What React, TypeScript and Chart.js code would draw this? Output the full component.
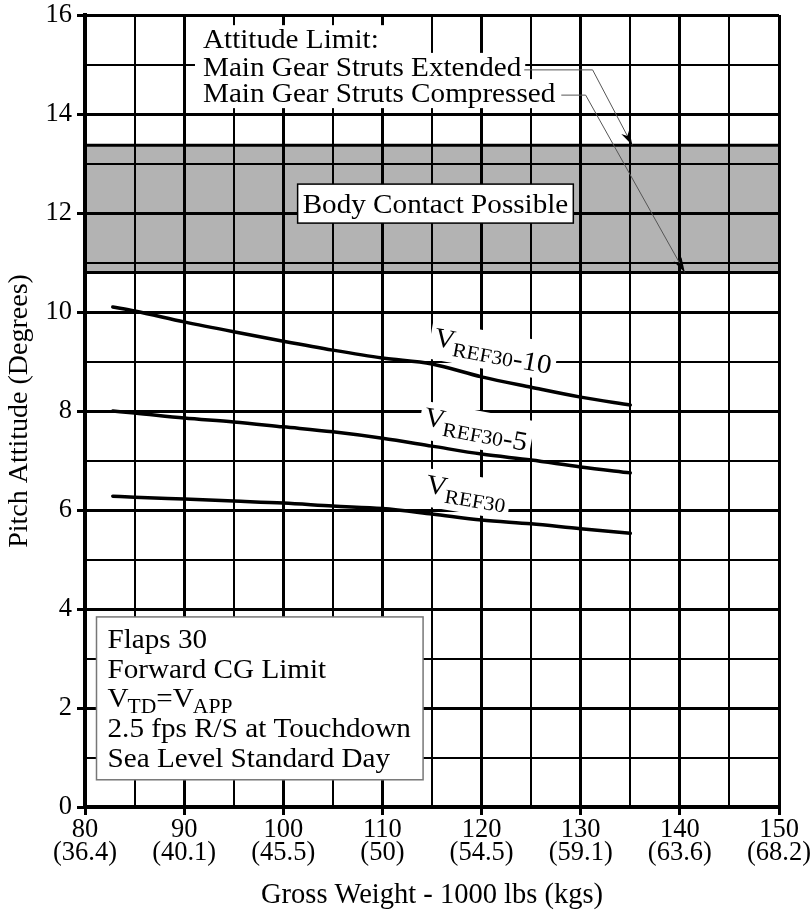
import React, { useEffect, useRef } from 'react';
import { Chart, registerables } from 'chart.js';

Chart.register(...registerables);

const SERIF = '"Liberation Serif", "Times New Roman", serif';
const SX = 1.08; // horizontal stretch of annotation text

// Axis ticks
const weightTicks = [80, 90, 100, 110, 120, 130, 140, 150];
const kgLabels = ['(36.4)', '(40.1)', '(45.5)', '(50)', '(54.5)', '(59.1)', '(63.6)', '(68.2)'];
const pitchTicks = [0, 2, 4, 6, 8, 10, 12, 14, 16];

// Curves (gross weight in 1000 lbs -> pitch attitude in degrees)
const curveWeights = [82.8, 85, 90, 95, 100, 105, 110, 115, 120, 125, 130, 135];
const vref30minus10 = [10.1, 10.02, 9.8, 9.6, 9.41, 9.23, 9.07, 8.95, 8.69, 8.48, 8.28, 8.12];
const vref30minus5 = [8.0, 7.96, 7.86, 7.78, 7.68, 7.58, 7.45, 7.29, 7.13, 7.01, 6.87, 6.75];
const vref30 = [6.28, 6.26, 6.22, 6.18, 6.14, 6.08, 6.03, 5.92, 5.8, 5.72, 5.62, 5.53];

// Attitude limits (body contact band)
const bandWeights = [80, 150];
const strutsExtendedLimit = 13.37;
const strutsCompressedLimit = 10.8;

const conditionLines = ['Flaps 30', 'Forward CG Limit', 'VTD=VAPP', '2.5 fps R/S at Touchdown', 'Sea Level Standard Day'];

const f = (size: number) => `${size}px ${SERIF}`;

function textW(ctx: CanvasRenderingContext2D, s: string) {
  return ctx.measureText(s).width * SX;
}

function fillS(ctx: CanvasRenderingContext2D, s: string, x: number, y: number) {
  ctx.save();
  ctx.translate(x, y);
  ctx.scale(SX, 1);
  ctx.fillText(s, 0, 0);
  ctx.restore();
}

function drawCurveLabel(ctx: CanvasRenderingContext2D, x: number, y: number, angle: number, suffix: string, bg: boolean) {
  ctx.save();
  ctx.translate(x, y);
  ctx.rotate((angle * Math.PI) / 180);
  ctx.font = f(27);
  const wV = textW(ctx, 'V');
  ctx.font = f(20);
  const wSub = textW(ctx, 'REF30');
  ctx.font = f(27);
  const wSuf = suffix ? textW(ctx, suffix) : 0;
  const total = wV - 1 + wSub + wSuf;
  if (bg) {
    ctx.fillStyle = '#ffffff';
    ctx.fillRect(-4, -24, total + 8, 38);
  } else {
    ctx.fillStyle = '#000';
    ctx.textAlign = 'left';
    ctx.textBaseline = 'alphabetic';
    ctx.font = f(27);
    fillS(ctx, 'V', 0, 0);
    ctx.font = f(20);
    fillS(ctx, 'REF30', wV - 1, 7);
    if (suffix) {
      ctx.font = f(27);
      fillS(ctx, suffix, wV - 1 + wSub, 7);
    }
  }
  ctx.restore();
}

function arrow(ctx: CanvasRenderingContext2D, pts: number[][]) {
  ctx.save();
  ctx.strokeStyle = '#555';
  ctx.lineWidth = 1;
  ctx.beginPath();
  ctx.moveTo(pts[0][0], pts[0][1]);
  for (let i = 1; i < pts.length; i++) ctx.lineTo(pts[i][0], pts[i][1]);
  ctx.stroke();
  const [x1, y1] = pts[pts.length - 2];
  const [x2, y2] = pts[pts.length - 1];
  const a = Math.atan2(y2 - y1, x2 - x1);
  const L = 15, W = 4.5;
  ctx.fillStyle = '#000';
  ctx.beginPath();
  ctx.moveTo(x2, y2);
  ctx.lineTo(x2 - L * Math.cos(a) + W * Math.sin(a), y2 - L * Math.sin(a) - W * Math.cos(a));
  ctx.lineTo(x2 - L * 0.7 * Math.cos(a), y2 - L * 0.7 * Math.sin(a));
  ctx.lineTo(x2 - L * Math.cos(a) - W * Math.sin(a), y2 - L * Math.sin(a) + W * Math.cos(a));
  ctx.closePath();
  ctx.fill();
  ctx.restore();
}

const curveLabels = [
  { x: 115.1, y: 9.33, angle: 10.5, suffix: '-10' },
  { x: 114.1, y: 7.72, angle: 10.5, suffix: '-5' },
  { x: 114.3, y: 6.36, angle: 9.5, suffix: '' },
];

const annotationPlugin = {
  id: 'annotations',
  beforeDatasetsDraw(chart: any) {
    const ctx: CanvasRenderingContext2D = chart.ctx;
    const sx = chart.scales.x, sy = chart.scales.y;
    curveLabels.forEach((l) => drawCurveLabel(ctx, sx.getPixelForValue(l.x), sy.getPixelForValue(l.y), l.angle, l.suffix, true));
  },
  afterDatasetsDraw(chart: any) {
    const ctx: CanvasRenderingContext2D = chart.ctx;
    const sx = chart.scales.x, sy = chart.scales.y;
    curveLabels.forEach((l) => drawCurveLabel(ctx, sx.getPixelForValue(l.x), sy.getPixelForValue(l.y), l.angle, l.suffix, false));
  },
  afterDraw(chart: any) {
    const ctx: CanvasRenderingContext2D = chart.ctx;
    const sx = chart.scales.x, sy = chart.scales.y;
    const X = (v: number) => sx.getPixelForValue(v);
    const Y = (v: number) => sy.getPixelForValue(v);
    ctx.save();

    // Attitude limit text block
    const topLines = ['Attitude Limit:', 'Main Gear Struts Extended', 'Main Gear Struts Compressed'];
    const topBase = [15.33, 14.77, 14.24];
    const bgPad = [16, 4, 4];
    const tx = X(91.9);
    ctx.font = f(27);
    ctx.textAlign = 'left';
    ctx.textBaseline = 'alphabetic';
    const widths = topLines.map((t) => textW(ctx, t));
    topLines.forEach((t, i) => {
      const by = Y(topBase[i]);
      ctx.fillStyle = '#fff';
      ctx.fillRect(tx - 8, by - 23, widths[i] + 8 + bgPad[i], 29);
    });
    topLines.forEach((t, i) => {
      ctx.fillStyle = '#000';
      fillS(ctx, t, tx, Y(topBase[i]));
    });
    // leaders
    const y2 = Y(topBase[1]) - 6;
    arrow(ctx, [[tx + widths[1] + 3, y2], [X(131.2), y2], [X(135.2), Y(strutsExtendedLimit)]]);
    const y3 = Y(topBase[2]) - 7;
    arrow(ctx, [[tx + widths[2] + 6, y3], [X(130.5), y3], [X(140.5), Y(strutsCompressedLimit)]]);

    // Body contact box
    ctx.font = f(27);
    const bt = 'Body Contact Possible';
    const bw = textW(ctx, bt);
    const bcx = X(115.35), bcy = Y(12.19);
    ctx.fillStyle = '#fff';
    ctx.fillRect(bcx - bw / 2 - 5, bcy - 19.5, bw + 10, 39);
    ctx.strokeStyle = '#000';
    ctx.lineWidth = 1.5;
    ctx.strokeRect(bcx - bw / 2 - 5, bcy - 19.5, bw + 10, 39);
    ctx.fillStyle = '#000';
    ctx.textAlign = 'left';
    ctx.textBaseline = 'alphabetic';
    fillS(ctx, bt, bcx - bw / 2, bcy + 9);

    // Conditions box
    const bx0 = X(81.16), bx1 = X(114.1), by0 = Y(3.84), by1 = Y(0.55);
    ctx.fillStyle = '#fff';
    ctx.fillRect(bx0, by0, bx1 - bx0, by1 - by0);
    ctx.strokeStyle = '#777';
    ctx.lineWidth = 1.5;
    ctx.strokeRect(bx0, by0, bx1 - bx0, by1 - by0);
    ctx.fillStyle = '#000';
    const lx = X(82.27);
    const lineBase = [3.21, 2.61, 2.02, 1.41, 0.81];
    conditionLines.forEach((t, i) => {
      const by = Y(lineBase[i]);
      if (i === 2) {
        let cx = lx;
        const parts: [string, number, number][] = [['V', 27, 0], ['TD', 20, 6], ['=', 27, 0], ['V', 27, 0], ['APP', 20, 6]];
        parts.forEach(([s, size, dy]) => {
          ctx.font = f(size);
          fillS(ctx, s, cx, by + dy);
          cx += textW(ctx, s) - (s === 'V' ? 1 : 0);
        });
      } else {
        ctx.font = f(27);
        fillS(ctx, t, lx, by);
      }
    });
    ctx.restore();
  },
};

export default function App() {
  const ref = useRef<HTMLCanvasElement>(null);
  useEffect(() => {
    const pts = (ys: number[]) => curveWeights.map((x, i) => ({ x, y: ys[i] }));
    const curveStyle = {
      borderColor: '#000',
      borderWidth: 3.5,
      pointRadius: 0,
      fill: false,
      cubicInterpolationMode: 'monotone' as const,
      borderCapStyle: 'round' as const,
    };
    const chart = new Chart(ref.current as HTMLCanvasElement, {
      type: 'line',
      data: {
        datasets: [
          {
            label: 'Main Gear Struts Extended',
            data: bandWeights.map((x) => ({ x, y: strutsExtendedLimit })),
            borderColor: '#000',
            borderWidth: 3,
            backgroundColor: '#b3b3b3',
            pointRadius: 0,
            fill: '+1',
          },
          {
            label: 'Main Gear Struts Compressed',
            data: bandWeights.map((x) => ({ x, y: strutsCompressedLimit })),
            borderColor: '#000',
            borderWidth: 3,
            pointRadius: 0,
            fill: false,
          },
          { label: 'VREF30-10', data: pts(vref30minus10), ...curveStyle },
          { label: 'VREF30-5', data: pts(vref30minus5), ...curveStyle },
          { label: 'VREF30', data: pts(vref30), ...curveStyle },
        ],
      },
      options: {
        animation: false,
        responsive: false,
        devicePixelRatio: 1,
        layout: { padding: { top: 15, right: 33, left: 0, bottom: 0 } },
        plugins: {
          legend: { display: false },
          tooltip: { enabled: false },
          filler: { drawTime: 'beforeDraw' },
        } as any,
        scales: {
          x: {
            type: 'linear',
            min: 80,
            max: 150,
            afterFit: (s: any) => {
              s.height = 106;
              s.paddingLeft = 0;
              s.paddingRight = 0;
            },
            ticks: {
              stepSize: 5,
              autoSkip: false,
              maxRotation: 0,
              minRotation: 0,
              padding: 4,
              color: '#000',
              font: { family: SERIF, size: 26.5, lineHeight: '23px' } as any,
              callback: (v: any) => {
                const i = weightTicks.indexOf(Math.round(Number(v)));
                return i >= 0 ? [String(weightTicks[i]), kgLabels[i]] : '';
              },
            },
            grid: {
              color: '#000',
              lineWidth: (c: any) => (c.tick && Math.round(c.tick.value) % 10 === 0 ? 3 : 2),
              tickLength: 8,
              tickWidth: 3,
              tickColor: (c: any) => (c.tick && Math.round(c.tick.value) % 10 === 0 ? '#000' : 'rgba(0,0,0,0)'),
            },
            border: { display: true, color: '#000', width: 4 },
            title: {
              display: true,
              text: 'Gross Weight - 1000 lbs (kgs)',
              color: '#000',
              font: { family: SERIF, size: 28.5 },
              padding: { top: 0, bottom: 0 },
            },
          },
          y: {
            type: 'linear',
            min: 0,
            max: 16,
            afterFit: (s: any) => {
              s.width = 85;
              s.paddingTop = 0;
              s.paddingBottom = 0;
            },
            ticks: {
              stepSize: 1,
              autoSkip: false,
              padding: 5,
              color: '#000',
              font: { family: SERIF, size: 26.5 },
              callback: (v: any) => (pitchTicks.includes(Math.round(Number(v))) ? String(Math.round(Number(v))) : ''),
            },
            grid: {
              color: '#000',
              lineWidth: (c: any) => (c.tick && Math.round(c.tick.value) % 2 === 0 ? 3 : 2),
              tickLength: 8,
              tickWidth: 3,
              tickColor: (c: any) => (c.tick && Math.round(c.tick.value) % 2 === 0 ? '#000' : 'rgba(0,0,0,0)'),
            },
            border: { display: true, color: '#000', width: 4 },
            title: {
              display: true,
              text: 'Pitch Attitude (Degrees)',
              color: '#000',
              font: { family: SERIF, size: 28 },
              padding: { top: 3, bottom: 0 },
            },
          },
        },
      },
      plugins: [annotationPlugin],
    });
    return () => chart.destroy();
  }, []);
  return (
    <div style={{ position: 'absolute', left: 0, top: 0, width: 812, height: 913, background: '#fff' }}>
      <canvas ref={ref} width={812} height={913} style={{ display: 'block', width: 812, height: 913 }} />
    </div>
  );
}
